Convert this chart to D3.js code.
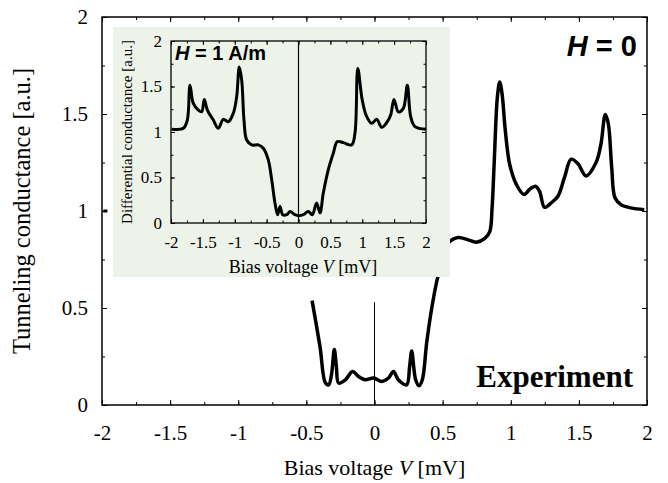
<!DOCTYPE html>
<html>
<head>
<meta charset="utf-8">
<script src="https://cdn.jsdelivr.net/npm/d3@7"></script>
<style>
  body { margin: 0; background: #fff; }
  svg text { fill: #000; }
  .serif { font-family: "Liberation Serif", "Times New Roman", serif; }
  .sans { font-family: "Liberation Sans", Arial, sans-serif; }
</style>
</head>
<body>
<div id="chart"></div>
<script>
// Main panel: measured tunneling conductance (H = 0)
const mainEdge = [[-1.99, 1.0], [-1.96, 1.0]];
const mainCurve = [
  [-0.458, 0.538], [-0.40, 0.30], [-0.36, 0.113], [-0.336, 0.104], [-0.315, 0.16],
  [-0.295, 0.286], [-0.28, 0.2], [-0.263, 0.113], [-0.214, 0.130], [-0.161, 0.173],
  [-0.117, 0.147], [-0.068, 0.130], [-0.007, 0.139], [0.053, 0.121], [0.102, 0.139],
  [0.139, 0.173], [0.175, 0.130], [0.236, 0.104], [0.258, 0.2], [0.273, 0.278],
  [0.302, 0.130], [0.327, 0.099], [0.351, 0.130], [0.383, 0.321], [0.419, 0.495],
  [0.456, 0.634], [0.48, 0.703], [0.505, 0.79], [0.541, 0.835], [0.614, 0.863],
  [0.687, 0.851], [0.748, 0.839], [0.81, 0.859], [0.846, 0.894], [0.863, 1.016],
  [0.878, 1.241], [0.902, 1.589], [0.919, 1.665], [0.936, 1.606], [0.96, 1.415],
  [0.992, 1.241], [1.041, 1.137], [1.097, 1.085], [1.138, 1.111], [1.18, 1.128],
  [1.211, 1.102], [1.248, 1.019], [1.297, 1.042], [1.346, 1.076], [1.394, 1.172],
  [1.443, 1.267], [1.492, 1.245], [1.553, 1.181], [1.626, 1.25], [1.662, 1.345],
  [1.694, 1.498], [1.716, 1.45], [1.741, 1.224], [1.765, 1.068], [1.809, 1.033],
  [1.882, 1.016], [1.98, 1.007]
];

// Inset: differential conductance at H = 1 A/m
const insetCurve = [
  [-1.99, 1.03], [-1.807, 1.04], [-1.744, 1.13], [-1.702, 1.515], [-1.65, 1.314],
  [-1.572, 1.241], [-1.519, 1.222], [-1.478, 1.358], [-1.43, 1.241], [-1.336, 1.131],
  [-1.258, 1.04], [-1.18, 1.139], [-1.101, 1.113], [-1.023, 1.205], [-0.97, 1.387],
  [-0.929, 1.715], [-0.891, 1.57], [-0.855, 1.131], [-0.813, 0.912], [-0.734, 0.858],
  [-0.63, 0.858], [-0.552, 0.821], [-0.474, 0.693], [-0.42, 0.474], [-0.369, 0.219],
  [-0.327, 0.091], [-0.29, 0.182], [-0.248, 0.091], [-0.185, 0.091], [-0.133, 0.127],
  [-0.055, 0.091], [0.008, 0.08], [0.075, 0.091], [0.154, 0.127], [0.216, 0.091],
  [0.285, 0.219], [0.337, 0.11], [0.389, 0.329], [0.467, 0.584], [0.546, 0.767],
  [0.609, 0.894], [0.703, 0.883], [0.834, 0.858], [0.886, 0.986], [0.93, 1.698],
  [1.0, 1.35], [1.07, 1.168], [1.148, 1.095], [1.227, 1.139], [1.305, 1.051],
  [1.393, 1.113], [1.446, 1.186], [1.498, 1.358], [1.566, 1.222], [1.644, 1.259],
  [1.707, 1.515], [1.76, 1.168], [1.827, 1.058], [2.0, 1.03]
];

const xTicks = [-2, -1.5, -1, -0.5, 0, 0.5, 1, 1.5, 2];
const yTicks = [0, 0.5, 1, 1.5, 2];
const xMinor = d3.range(-2, 2.001, 0.25);
const yMinor = d3.range(0, 2.001, 0.25);

const width = 668, height = 483;

const svg = d3.select('#chart').append('svg')
  .attr('width', width)
  .attr('height', height);

const x = d3.scaleLinear().domain([-2, 2]).range([102, 647]);
const y = d3.scaleLinear().domain([0, 2]).range([405, 17]);

const fmt = d => String(d).replace('−', '-');

function drawFrame(g, xs, ys, opts) {
  const [x0, x1] = xs.range();
  const [y0, y1] = ys.range();

  // Minor ticks on all four sides, pointing inward
  g.append('g').attr('transform', `translate(0,${y0})`)
    .call(d3.axisBottom(xs).tickValues(xMinor).tickSize(-opts.minor).tickFormat(''));
  g.append('g').attr('transform', `translate(0,${y1})`)
    .call(d3.axisTop(xs).tickValues(xMinor).tickSize(-opts.minor).tickFormat(''));
  g.append('g').attr('transform', `translate(${x0},0)`)
    .call(d3.axisLeft(ys).tickValues(yMinor).tickSize(-opts.minor).tickFormat(''));
  g.append('g').attr('transform', `translate(${x1},0)`)
    .call(d3.axisRight(ys).tickValues(yMinor).tickSize(-opts.minor).tickFormat(''));

  // Major ticks with labels
  g.append('g').attr('class', 'serif').attr('transform', `translate(0,${y0})`)
    .call(d3.axisBottom(xs).tickValues(xTicks).tickSize(-opts.major)
      .tickPadding(opts.xPad).tickFormat(fmt));
  g.append('g').attr('transform', `translate(0,${y1})`)
    .call(d3.axisTop(xs).tickValues(xTicks).tickSize(-opts.major).tickFormat(''));
  g.append('g').attr('class', 'serif').attr('transform', `translate(${x0},0)`)
    .call(d3.axisLeft(ys).tickValues(yTicks).tickSize(-opts.major)
      .tickPadding(opts.yPad).tickFormat(fmt));
  g.append('g').attr('transform', `translate(${x1},0)`)
    .call(d3.axisRight(ys).tickValues(yTicks).tickSize(-opts.major).tickFormat(''));

  g.selectAll('.domain').remove();
  g.selectAll('.tick line').attr('stroke', '#000').attr('stroke-width', 1);
  g.selectAll('.tick text')
    .attr('font-family', '"Liberation Serif", serif')
    .attr('font-size', opts.fontSize)
    .attr('fill', '#000');

  g.append('rect')
    .attr('x', x0).attr('y', y1)
    .attr('width', x1 - x0).attr('height', y0 - y1)
    .attr('fill', 'none')
    .attr('stroke', '#000')
    .attr('stroke-width', opts.frame);
}

// ---- Main panel ----
const main = svg.append('g');
drawFrame(main, x, y, { major: 5, minor: 3, xPad: 20, yPad: 14, fontSize: 21, frame: 1.5 });

// zero-bias marker
main.append('line')
  .attr('x1', x(0)).attr('x2', x(0))
  .attr('y1', y(0)).attr('y2', y(0.53))
  .attr('stroke', '#000').attr('stroke-width', 1);

const line = d3.line()
  .x(d => x(d[0]))
  .y(d => y(d[1]))
  .curve(d3.curveCatmullRom.alpha(0.5));

main.append('path')
  .datum(mainEdge)
  .attr('d', line)
  .attr('fill', 'none').attr('stroke', '#000').attr('stroke-width', 3);

main.append('path')
  .datum(mainCurve)
  .attr('d', line)
  .attr('fill', 'none').attr('stroke', '#000').attr('stroke-width', 3.5)
  .attr('stroke-linejoin', 'round');

main.append('text')
  .attr('class', 'serif')
  .attr('x', x(0)).attr('y', 475)
  .attr('text-anchor', 'middle')
  .attr('font-size', 22)
  .html('Bias voltage <tspan font-style="italic">V</tspan> [mV]');

main.append('text')
  .attr('class', 'serif')
  .attr('transform', `translate(30,${y(1)}) rotate(-90)`)
  .attr('text-anchor', 'middle')
  .attr('font-size', 24.5)
  .text('Tunneling conductance [a.u.]');

main.append('text')
  .attr('class', 'sans')
  .attr('x', 637).attr('y', 56)
  .attr('text-anchor', 'end')
  .attr('font-size', 29)
  .attr('font-weight', 'bold')
  .html('<tspan font-style="italic">H</tspan> = 0');

main.append('text')
  .attr('class', 'serif')
  .attr('x', 633).attr('y', 387)
  .attr('text-anchor', 'end')
  .attr('font-size', 31)
  .attr('font-weight', 'bold')
  .text('Experiment');

// ---- Inset ----
const ix = d3.scaleLinear().domain([-2, 2]).range([171, 426]);
const iy = d3.scaleLinear().domain([0, 2]).range([223, 41]);

const inset = svg.append('g');
inset.append('rect')
  .attr('x', 113).attr('y', 27)
  .attr('width', 337).attr('height', 250)
  .attr('fill', '#edf3e9');

drawFrame(inset, ix, iy, { major: 4, minor: 2.5, xPad: 13, yPad: 9, fontSize: 17, frame: 1.3 });

inset.append('line')
  .attr('x1', ix(0)).attr('x2', ix(0))
  .attr('y1', iy(0)).attr('y2', iy(2))
  .attr('stroke', '#000').attr('stroke-width', 1.2);

const iline = d3.line()
  .x(d => ix(d[0]))
  .y(d => iy(d[1]))
  .curve(d3.curveCatmullRom.alpha(0.5));

inset.append('path')
  .datum(insetCurve)
  .attr('d', iline)
  .attr('fill', 'none').attr('stroke', '#000').attr('stroke-width', 3)
  .attr('stroke-linejoin', 'round');

inset.append('text')
  .attr('class', 'serif')
  .attr('x', 303).attr('y', 273)
  .attr('text-anchor', 'middle')
  .attr('font-size', 18)
  .html('Bias voltage <tspan font-style="italic">V</tspan> [mV]');

inset.append('text')
  .attr('class', 'serif')
  .attr('transform', `translate(132,${iy(1)}) rotate(-90)`)
  .attr('text-anchor', 'middle')
  .attr('font-size', 15)
  .text('Differential conductance [a.u.]');

inset.append('text')
  .attr('class', 'sans')
  .attr('x', 175).attr('y', 60)
  .attr('font-size', 20)
  .attr('font-weight', 'bold')
  .html('<tspan font-style="italic">H</tspan> = 1 A/m');
</script>
</body>
</html>
